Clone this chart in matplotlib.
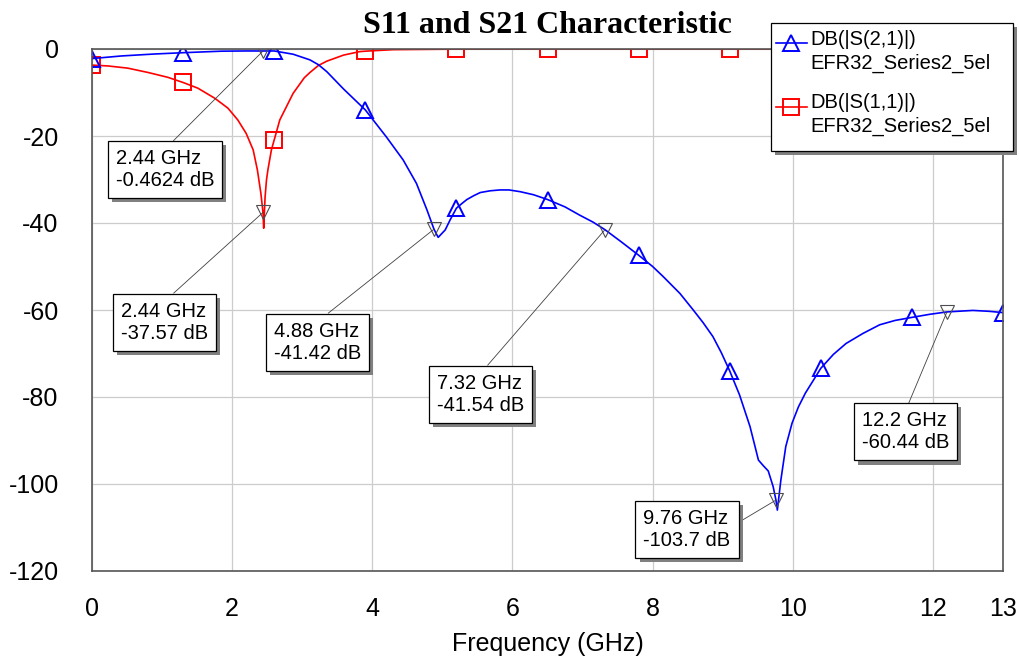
import numpy as np
import matplotlib.pyplot as plt
from matplotlib import patheffects
from matplotlib.lines import Line2D
from matplotlib.patches import Rectangle

# S21 trace (blue)
freq_s21 = [0.0, 0.42, 0.89, 1.3, 1.85, 2.2, 2.44, 2.6, 2.87, 3.11, 3.23, 3.35,
            3.59, 3.9, 4.2, 4.44, 4.63, 4.78, 4.88, 4.94, 5.04, 5.11, 5.2, 5.28,
            5.35, 5.45, 5.54, 5.68, 5.82, 5.95, 6.11, 6.3, 6.5, 6.75, 6.96, 7.15,
            7.32, 7.55, 7.8, 8.0, 8.15, 8.39, 8.58, 8.72, 8.86, 8.98, 9.1, 9.24,
            9.39, 9.51, 9.58, 9.65, 9.72, 9.76, 9.78, 9.83, 9.9, 9.99, 10.08,
            10.18, 10.3, 10.4, 10.58, 10.76, 11.0, 11.24, 11.46, 11.7, 11.95,
            12.2, 12.57, 12.8, 13.0]
db_s21 = [-2.2, -1.6, -1.15, -0.85, -0.5, -0.45, -0.46, -0.45, -1.2, -2.5, -3.6,
          -5.2, -9.2, -14.0, -20.2, -25.5, -30.9, -37.0, -41.42, -43.3, -41.6,
          -39.3, -36.6, -35.5, -34.6, -33.7, -33.0, -32.6, -32.4, -32.4, -32.8,
          -33.5, -34.6, -36.3, -38.2, -39.8, -41.54, -44.3, -47.4, -50.0, -52.3,
          -56.2, -60.0, -62.9, -66.1, -69.8, -74.0, -79.5, -86.8, -94.5, -95.8,
          -97.0, -100.6, -103.7, -106.0, -99.1, -91.4, -86.0, -82.3, -79.1,
          -76.0, -73.4, -70.2, -67.7, -65.4, -63.4, -62.4, -61.7, -61.0, -60.44,
          -60.1, -60.3, -60.6]

# S11 trace (red)
freq_s11 = [0.0, 0.23, 0.51, 0.8, 1.08, 1.3, 1.51, 1.75, 1.94, 2.08, 2.2, 2.3,
            2.36, 2.41, 2.44, 2.45, 2.47, 2.49, 2.51, 2.56, 2.6, 2.68, 2.87,
            3.03, 3.11, 3.23, 3.35, 3.59, 3.82, 3.9, 4.3, 5.2, 6.5, 7.8, 9.1,
            10.4, 11.7, 13.0]
db_s11 = [-3.7, -3.9, -4.4, -5.4, -6.5, -7.7, -9.0, -11.3, -13.6, -16.3, -19.4,
          -23.2, -27.8, -33.2, -37.57, -41.2, -34.0, -30.1, -27.8, -23.2, -20.9,
          -16.3, -10.2, -6.6, -5.4, -3.8, -2.8, -1.4, -0.6, -0.5, -0.15, -0.03,
          0.0, 0.0, 0.0, 0.0, 0.0, 0.0]

symbol_freqs = [0.0, 1.3, 2.6, 3.9, 5.2, 6.5, 7.8, 9.1, 10.4, 11.7, 13.0]

mark_freq = [2.44, 2.44, 4.88, 7.32, 9.76, 12.2]
mark_db = [-0.4624, -37.57, -41.42, -41.54, -103.7, -60.44]

legend_labels = ['DB(|S(2,1)|)\nEFR32_Series2_5el', 'DB(|S(1,1)|)\nEFR32_Series2_5el']
x_ticks = [0, 2, 4, 6, 8, 10, 12, 13]
y_ticks = [0, -20, -40, -60, -80, -100, -120]

W, H = 1019, 664


def px(x, y):
    # image pixel -> figure fraction
    return x / W, 1 - y / H


def symbol_idx(freqs):
    f = np.array(freqs)
    return [i for i, v in enumerate(f) if np.any(np.isclose(v, symbol_freqs))]


def main():
    plt.rcParams['font.family'] = ['Liberation Sans', 'DejaVu Sans']
    plt.rcParams['axes.unicode_minus'] = False
    fig = plt.figure(figsize=(W / 100, H / 100), dpi=100)
    l, t = px(92, 49)
    r, b = px(1003, 571)
    ax = fig.add_axes([l, b, r - l, t - b])

    ax.plot(freq_s11, db_s11, color='red', lw=1.2, marker='s', ms=12,
            mfc='none', mec='red', mew=1.4, markevery=symbol_idx(freq_s11))
    ax.plot(freq_s21, db_s21, color='blue', lw=1.2, marker='^', ms=12,
            mfc='none', mec='blue', mew=1.4, markevery=symbol_idx(freq_s21))
    ax.plot(mark_freq, mark_db, ls='none', marker='v', ms=10, mfc='none',
            mec='0.3', mew=0.8)

    ax.set_xlim(0, 13)
    ax.set_ylim(-120, 0)
    ax.set_xticks(x_ticks)
    ax.set_yticks(y_ticks)
    ax.tick_params(length=0, labelsize=18)
    ax.tick_params(axis='x', pad=19)
    ax.tick_params(axis='y', pad=24)
    ax.grid(True, color='#cccccc', lw=0.9)
    ax.set_axisbelow(True)
    for s in ax.spines.values():
        s.set_color('#555555')
        s.set_linewidth(1.2)
    ax.set_xlabel('Frequency (GHz)', fontsize=18, labelpad=8)

    tx, ty = px(547.5, 33)
    fig.text(tx, ty, 'S11 and S21 Characteristic', ha='center', va='baseline',
             fontsize=23, fontweight='bold', family='Liberation Serif')

    # marker readout boxes: (center x, center y, leader attach point)
    box_pos = [(165, 169.7, (0.5, 1)), (164.2, 322.2, (0.5, 1)),
               (317.5, 342.2, (0.5, 1)), (480.3, 394.2, (0.5, 1)),
               (687, 529.2, (1, 0.55)), (905.3, 431.8, (0.5, 1))]
    shadow = [patheffects.withSimplePatchShadow(offset=(3, -3), shadow_rgbFace='0.5', alpha=1.0)]
    for f, d, (bx, by, rp) in zip(mark_freq, mark_db, box_pos):
        txt = '%g GHz\n%g dB' % (f, d)
        ann = ax.annotate(txt, xy=(f, d), xytext=(bx, H - by), textcoords='figure pixels',
                          ha='center', va='center', multialignment='left', fontsize=14.5,
                          bbox=dict(boxstyle='square,pad=0.4', fc='white', ec='black', lw=0.9),
                          arrowprops=dict(arrowstyle='-', color='0.25', lw=0.6,
                                          shrinkA=0, shrinkB=0, relpos=rp))
        ann.get_bbox_patch().set_path_effects(shadow)

    # legend box
    x0, y0 = px(770.7, 150.7)
    x1, y1 = px(1012.7, 23.3)
    box = Rectangle((x0, y0), x1 - x0, y1 - y0, transform=fig.transFigure,
                    fc='white', ec='black', lw=0.9, zorder=5)
    box.set_path_effects(shadow)
    fig.add_artist(box)
    styles = [('blue', '^'), ('red', 's')]
    for i, (lab, (c, m)) in enumerate(zip(legend_labels, styles)):
        yy = 43.3 + i * 63.4
        xa, ya = px(775.7, yy)
        xb, _ = px(806.7, yy)
        fig.add_artist(Line2D([xa, xb], [ya, ya], transform=fig.transFigure, color=c,
                              lw=1.2, zorder=6))
        fig.add_artist(Line2D([(xa + xb) / 2], [ya], transform=fig.transFigure, color=c,
                              marker=m, ms=12, mfc='none', mew=1.4, zorder=6))
        lx, ly = px(810, yy - 13.5)
        fig.text(lx, ly, lab, ha='left', va='top', fontsize=14.5, linespacing=1.3, zorder=7)

    fig.savefig('out.png', dpi=100)


if __name__ == '__main__':
    main()
